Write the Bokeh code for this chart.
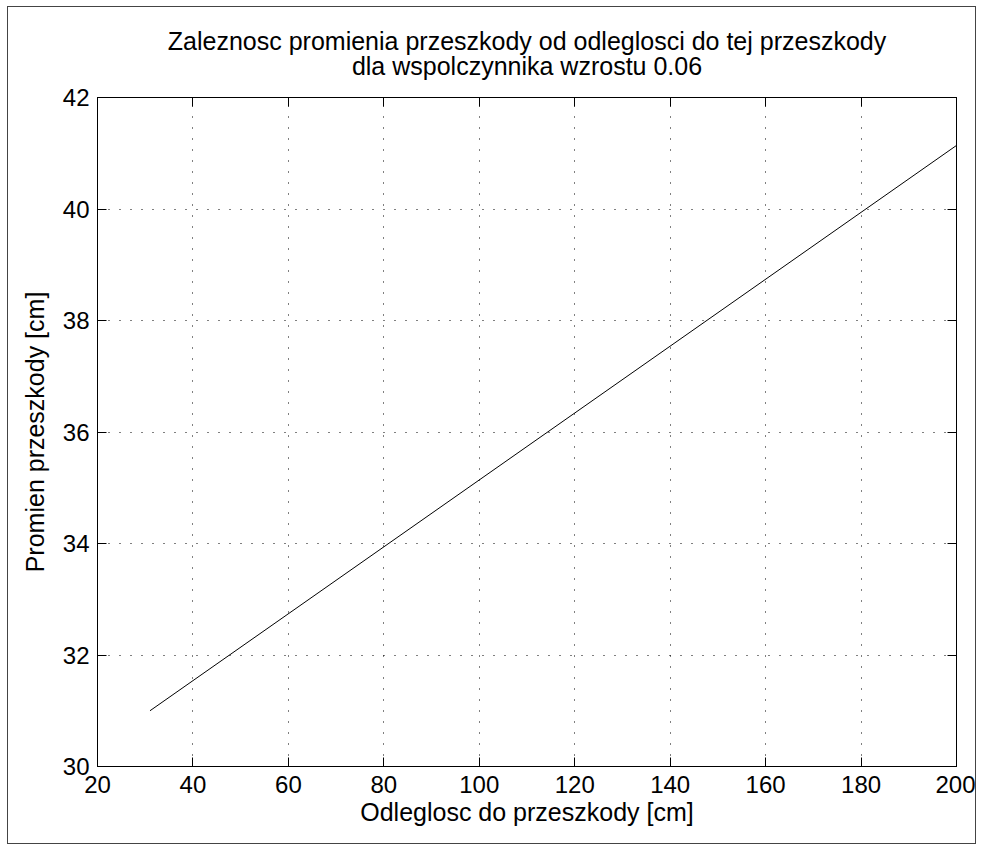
from bokeh.plotting import figure
from bokeh.models import LinearAxis, Range1d, FixedTicker, Title
from bokeh.embed import file_html
from bokeh.resources import INLINE

# data
x_vals = [31, 200]
y_vals = [31.0, 41.14]
x_ticks = [20, 40, 60, 80, 100, 120, 140, 160, 180, 200]
y_ticks = [30, 32, 34, 36, 38, 40, 42]
title_lines = ["Zaleznosc promienia przeszkody od odleglosci do tej przeszkody",
               "dla wspolczynnika wzrostu 0.06"]
x_label = "Odleglosc do przeszkody [cm]"
y_label = "Promien przeszkody [cm]"

FONT = "Liberation Sans"
FS = "24px"
FS_LABEL = "25px"

p = figure(width=969, height=838, output_backend="svg", toolbar_location=None,
           x_range=Range1d(20, 200), y_range=Range1d(30, 42),
           min_border_left=89, min_border_right=21, min_border_top=90, min_border_bottom=79,
           x_axis_location=None, y_axis_location=None, title=None)
p.margin = (6, 0, 0, 7)
p.styles = {"border": "1px solid #444", "box-sizing": "border-box"}
p.background_fill_color = "white"
p.border_fill_color = "white"
p.outline_line_color = "black"
p.outline_line_width = 1

p.line(x_vals, y_vals, line_color="black", line_width=1)

def style_axis(ax, ticks, labels=True):
    ax.ticker = FixedTicker(ticks=ticks)
    ax.major_tick_in = 9
    ax.major_tick_out = 0
    ax.minor_tick_line_color = None
    ax.axis_line_color = "black"
    ax.major_tick_line_color = "black"
    ax.major_label_text_font = FONT
    ax.major_label_text_font_size = FS
    ax.major_label_text_color = "black"
    ax.axis_label_text_font = FONT
    ax.axis_label_text_font_size = FS_LABEL
    ax.axis_label_text_font_style = "normal"
    ax.axis_label_text_color = "black"
    if not labels:
        ax.major_label_overrides = {t: "" for t in ticks}

xb = LinearAxis(axis_label=x_label)
style_axis(xb, x_ticks)
xb.major_label_standoff = 9
xb.axis_label_standoff = 2
xt = LinearAxis()
style_axis(xt, x_ticks, labels=False)
yl = LinearAxis(axis_label=y_label)
style_axis(yl, y_ticks)
yl.major_label_standoff = 8
yl.axis_label_standoff = 11
yr = LinearAxis()
style_axis(yr, y_ticks, labels=False)
p.add_layout(xb, "below")
p.add_layout(xt, "above")
p.add_layout(yl, "left")
p.add_layout(yr, "right")

p.xgrid.ticker = FixedTicker(ticks=x_ticks)
p.ygrid.ticker = FixedTicker(ticks=y_ticks)
for g in (p.xgrid, p.ygrid):
    g.grid_line_color = "black"
    g.grid_line_dash = "1 10"
    g.grid_line_width = 1

# title lines: first added sits closest to the plot
standoffs = [35, -44]
for line, so in zip(reversed(title_lines), standoffs):
    t = Title(text=line, align="center", text_font=FONT, text_font_size=FS_LABEL,
              text_font_style="normal", text_color="black",
              standoff=so, offset=0)
    p.add_layout(t, "above")

open("out.html", "w").write(file_html(p, INLINE))
